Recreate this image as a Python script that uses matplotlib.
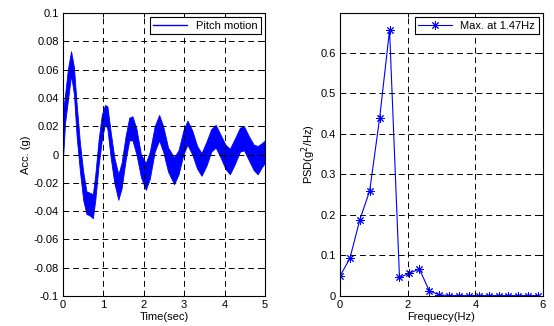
import numpy as np
import matplotlib
matplotlib.use("Agg")
import matplotlib.pyplot as plt

plt.rcParams['font.family'] = ['Liberation Sans', 'DejaVu Sans']
plt.rcParams['font.size'] = 8

# pitch motion: band of the noisy trace (time, lower, upper)
t_sec = [0.00, 0.05, 0.12, 0.20, 0.27, 0.34, 0.42, 0.50, 0.58, 0.66, 0.74, 0.80,
         0.88, 0.96, 1.04, 1.10, 1.18, 1.27, 1.37, 1.45, 1.55, 1.64, 1.72, 1.82,
         1.93, 2.05, 2.15, 2.27, 2.38, 2.48, 2.60, 2.75, 2.86, 2.98, 3.08, 3.20,
         3.32, 3.43, 3.55, 3.67, 3.78, 3.90, 4.02, 4.13, 4.25, 4.38, 4.48, 4.60,
         4.72, 4.82, 4.92, 5.00]
acc_lo = [-0.003, 0.022, 0.038, 0.056, 0.043, 0.012, -0.012, -0.032, -0.042, -0.043, -0.045, -0.032,
          -0.008, 0.010, 0.022, 0.018, -0.002, -0.020, -0.032, -0.024, -0.004, 0.010, 0.010, 0.000,
          -0.016, -0.025, -0.017, 0.002, 0.010, 0.002, -0.012, -0.021, -0.014, 0.000, 0.007, 0.000,
          -0.010, -0.015, -0.008, 0.002, 0.005, -0.002, -0.010, -0.014, -0.007, 0.002, 0.003, -0.004,
          -0.011, -0.014, -0.009, -0.006]
acc_hi = [0.030, 0.042, 0.060, 0.073, 0.062, 0.035, 0.008, -0.012, -0.026, -0.027, -0.028, -0.014,
          0.010, 0.028, 0.035, 0.034, 0.016, -0.002, -0.014, -0.006, 0.013, 0.026, 0.027, 0.018,
          0.000, -0.006, 0.002, 0.020, 0.028, 0.020, 0.005, -0.002, 0.003, 0.017, 0.024, 0.017,
          0.006, 0.001, 0.009, 0.018, 0.021, 0.014, 0.007, 0.004, 0.011, 0.019, 0.020, 0.013,
          0.007, 0.006, 0.008, 0.010]

# PSD
freq = [0, 0.293, 0.586, 0.879, 1.172, 1.465, 1.758, 2.051, 2.344, 2.637, 2.930,
        3.223, 3.516, 3.809, 4.102, 4.395, 4.688, 4.980, 5.273, 5.566, 5.859]
psd = [0.049, 0.093, 0.188, 0.260, 0.439, 0.656, 0.046, 0.056, 0.067, 0.013, 0.003,
       0.001, 0.001, 0.001, 0.001, 0.001, 0.001, 0.001, 0.001, 0.001, 0.001]

left_yticks = [0.1, 0.08, 0.06, 0.04, 0.02, 0, -0.02, -0.04, -0.06, -0.08, -0.1]
left_ylabels = ['0.1', '0.08', '0.06', '0.04', '0.02', '0', '-0.02', '-0.04', '-0.06', '-0.08', '-0.1']
right_yticks = [0, 0.1, 0.2, 0.3, 0.4, 0.5, 0.6]
right_ylabels = ['0', '0.1', '0.2', '0.3', '0.4', '0.5', '0.6']

fig = plt.figure(figsize=(5.54, 3.26), dpi=100)
ax1 = fig.add_axes([0.1137, 0.092, 0.3646, 0.868])
ax2 = fig.add_axes([0.6137, 0.092, 0.3664, 0.868])

blue = '#0000ff'
ax1.fill_between(t_sec, acc_lo, acc_hi, color=blue, lw=0.6, edgecolor=blue)
ax1.plot([], [], color=blue, lw=1, label='Pitch motion')
ax1.set_xlim(0, 5)
ax1.set_ylim(-0.1, 0.1)
ax1.set_xticks([0, 1, 2, 3, 4, 5])
ax1.set_xticklabels(['0', '1', '2', '3', '4', '5'])
ax1.set_yticks(left_yticks)
ax1.set_yticklabels(left_ylabels)
ax1.set_xlabel('Time(sec)', labelpad=1)
ax1.set_ylabel('Acc. (g)', labelpad=2)

ax2.plot(freq, psd, color=blue, lw=0.8, marker=(8, 2, 0), markersize=6,
         markeredgewidth=0.7, label='Max. at 1.47Hz')
ax2.set_xlim(0, 6)
ax2.set_ylim(0, 0.698)
ax2.set_xticks([0, 2, 4, 6])
ax2.set_xticklabels(['0', '2', '4', '6'])
ax2.set_yticks(right_yticks)
ax2.set_yticklabels(right_ylabels)
ax2.set_xlabel('Frequecy(Hz)', labelpad=1)
ax2.set_ylabel('PSD(g$^2$/Hz)', labelpad=2)

for ax in (ax1, ax2):
    ax.grid(True, color='k', linestyle=(0, (6, 4)), lw=0.7)
    ax.set_axisbelow(False)
    ax.tick_params(direction='in', top=True, right=True, length=3, width=0.7, pad=3)
    for sp in ax.spines.values():
        sp.set_linewidth(0.8)
    leg = ax.legend(loc='upper right', fancybox=False, edgecolor='k', framealpha=1,
                    borderpad=0.3, handlelength=3, borderaxespad=0.4)
    leg.get_frame().set_linewidth(0.8)

fig.savefig('out.png', dpi=100)
